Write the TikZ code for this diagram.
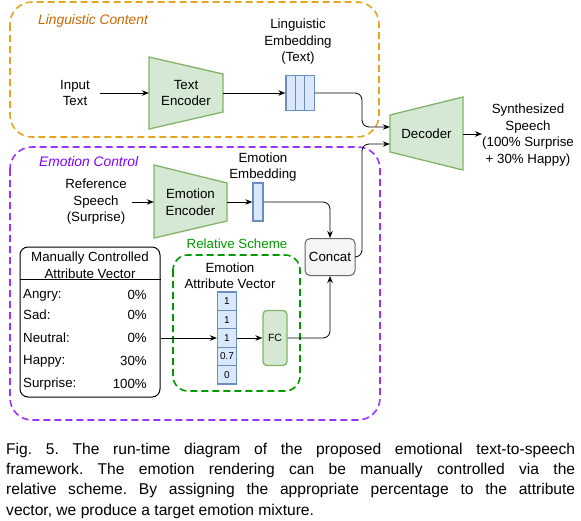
\documentclass[tikz,border=0pt]{standalone}
\usepackage{fontspec}
\setmainfont{Liberation Sans}
\usetikzlibrary{arrows.meta,calc}
\definecolor{encfill}{HTML}{D5E8D4}
\definecolor{encdraw}{HTML}{82B366}
\definecolor{cellfill}{HTML}{DAE8FC}
\definecolor{celldraw}{HTML}{6C8EBF}
\definecolor{orng}{HTML}{E6A520}
\definecolor{orngtext}{HTML}{CC6600}
\definecolor{purp}{HTML}{9933FF}
\definecolor{purptext}{HTML}{7F00FF}
\definecolor{grn}{HTML}{009900}
\definecolor{concatfill}{HTML}{F5F5F5}
\definecolor{concatdraw}{HTML}{666666}
\frenchspacing
\begin{document}
\begin{tikzpicture}[x=1pt,y=-1pt,
  font=\fontsize{13.3}{16.5}\selectfont,
  txt/.style={align=center, inner sep=0pt},
  arr/.style={-{Stealth[length=7pt,width=5.5pt]}, line width=0.8pt},
  enc/.style={fill=encfill, draw=encdraw, line width=1.3pt},
  encnode/.style={align=center, inner sep=0pt, minimum width=73pt, minimum height=73pt},
  cell/.style={draw=celldraw, fill=cellfill, line width=1.3pt, inner sep=0pt,
    font=\fontsize{10}{10}\selectfont},
  grp/.style={line width=1.6pt, dash pattern=on 7pt off 4pt, rounded corners=22pt},
  grptitle/.style={font=\fontsize{13.8}{15}\selectfont\itshape, inner sep=0pt, anchor=west},
  rowl/.style={inner sep=0pt, anchor=west},
  rowr/.style={inner sep=0pt, anchor=east}]
\useasboundingbox (0,0) rectangle (581,520);

% groups
\draw[grp, draw=orng] (10,2) rectangle (379,137);
\node[grptitle, text=orngtext] (lc) at (38,21) {Linguistic Content};
\draw[grp, draw=purp] (10,147) rectangle (380,420);
\node[grptitle, text=purptext] (ec) at (39,162) {Emotion Control};
\draw[grp, draw=grn, rounded corners=15pt] (173,255) rectangle (300,391);
\node[txt, text=grn] (rs) at (237,244) {Relative Scheme};

% linguistic branch
\node[txt, inner xsep=10pt] (in) at (75,93) {Input\\Text};
\draw[enc] (149,57) -- (223,74) -- (223,112) -- (149,129) -- cycle;
\node[encnode, minimum width=74pt] (tenc) at (186,93) {Text\\Encoder};
\node[cell, minimum width=9.4pt, minimum height=35pt] (le1) at (290.7,93) {};
\node[cell, minimum width=9.4pt, minimum height=35pt] (le2) at (300.1,93) {};
\node[cell, minimum width=9.4pt, minimum height=35pt] (le3) at (309.5,93) {};
\node[txt] (lel) at (298,42) {Linguistic\\Embedding\\(Text)};
\draw[arr] (in.east) -- (tenc.west);
\draw[arr] (tenc.east) -- (le1.west);

% decoder
\draw[enc] (390,115) -- (463,97) -- (463,170) -- (390,152) -- cycle;
\node[encnode] (dec) at (426.5,134) {Decoder};
\node[txt, anchor=west] (out) at (482,135) {Synthesized\\Speech\\(100\% Surprise\\+ 30\% Happy)};
\draw[arr] (dec.east) -- (out.west |- dec.east);
\draw[arr, rounded corners=7pt] (le3.east) -- (362,93) -- (362,127) -- (dec.west |- 0,127);

% emotion branch
\node[txt, inner xsep=5pt] (ref) at (96,202) {Reference\\Speech\\(Surprise)};
\draw[enc] (154,165) -- (227,183) -- (227,221) -- (154,238) -- cycle;
\node[encnode] (eenc) at (190.5,202) {Emotion\\Encoder};
\node[cell, minimum width=10pt, minimum height=38pt] (emb) at (258,202) {};
\node[txt] (embl) at (263,167) {Emotion\\Embedding};
\draw[arr] (ref.east) -- (eenc.west);
\draw[arr] (eenc.east) -- (emb.west);

\node[draw=concatdraw, fill=concatfill, rounded corners=5pt, line width=1pt,
  minimum width=50pt, minimum height=37pt, inner sep=0pt] (concat) at (330,257) {Concat};
\draw[arr, rounded corners=7pt] (emb.east) -| (concat.north);
\draw[arr, rounded corners=7pt] (concat.east) -- (362,257) -- (362,144) -- (dec.west |- 0,144);

% relative scheme
\node[txt] (eavl) at (230,275.5) {Emotion\\Attribute Vector};
\node[cell, minimum width=19pt, minimum height=18.4pt] (v1) at (227,301.2) {1};
\node[cell, minimum width=19pt, minimum height=18.4pt] (v2) at (227,319.6) {1};
\node[cell, minimum width=19pt, minimum height=18.4pt] (v3) at (227,338.0) {1};
\node[cell, minimum width=19pt, minimum height=18.4pt] (v4) at (227,356.4) {0.7};
\node[cell, minimum width=19pt, minimum height=18.4pt] (v5) at (227,374.8) {0};
\node[draw=encdraw, fill=encfill, line width=1.3pt, rounded corners=4pt, inner sep=0pt,
  minimum width=24pt, minimum height=55pt, font=\fontsize{10.5}{12}\selectfont] (fc) at (275,338) {FC};
\draw[arr] (v3.east) -- (fc.west);
\draw[arr, rounded corners=7pt] (fc.east) -| (concat.south);

% manual vector box
\node[draw, rounded corners=8pt, line width=1pt, minimum width=140pt, minimum height=150pt,
  inner sep=0pt] (mbox) at (90,322) {};
\draw[line width=1pt] (mbox.west |- 0,279) -- (mbox.east |- 0,279);
\node[txt] (mhead) at (90,265) {Manually Controlled\\Attribute Vector};
\node[rowl] (ra) at (23,295) {Angry:};
\node[rowr] (va) at (147,295) {0\%};
\node[rowl] (rsd) at (23,315) {Sad:};
\node[rowr] (vsd) at (147,315) {0\%};
\node[rowl] (rn) at (23,338) {Neutral:};
\node[rowr] (vn) at (147,338) {0\%};
\node[rowl] (rh) at (23,361) {Happy:};
\node[rowr] (vh) at (147,361) {30\%};
\node[rowl] (rsu) at (23,384) {Surprise:};
\node[rowr] (vsu) at (147,384) {100\%};
\draw[arr] (mbox.east |- v3.west) -- (v3.west);

% caption
\node[anchor=north west, inner sep=0pt, text width=569pt, align=justify,
  font=\fontsize{15.6}{20.2}\selectfont] (cap) at (6,443)
{Fig. 5. The run-time diagram of the proposed emotional text-to-speech\linebreak
framework. The emotion rendering can be manually controlled via the\linebreak
relative scheme. By assigning the appropriate percentage to the attribute\linebreak
vector, we produce a target emotion mixture.};
\end{tikzpicture}
\end{document}
